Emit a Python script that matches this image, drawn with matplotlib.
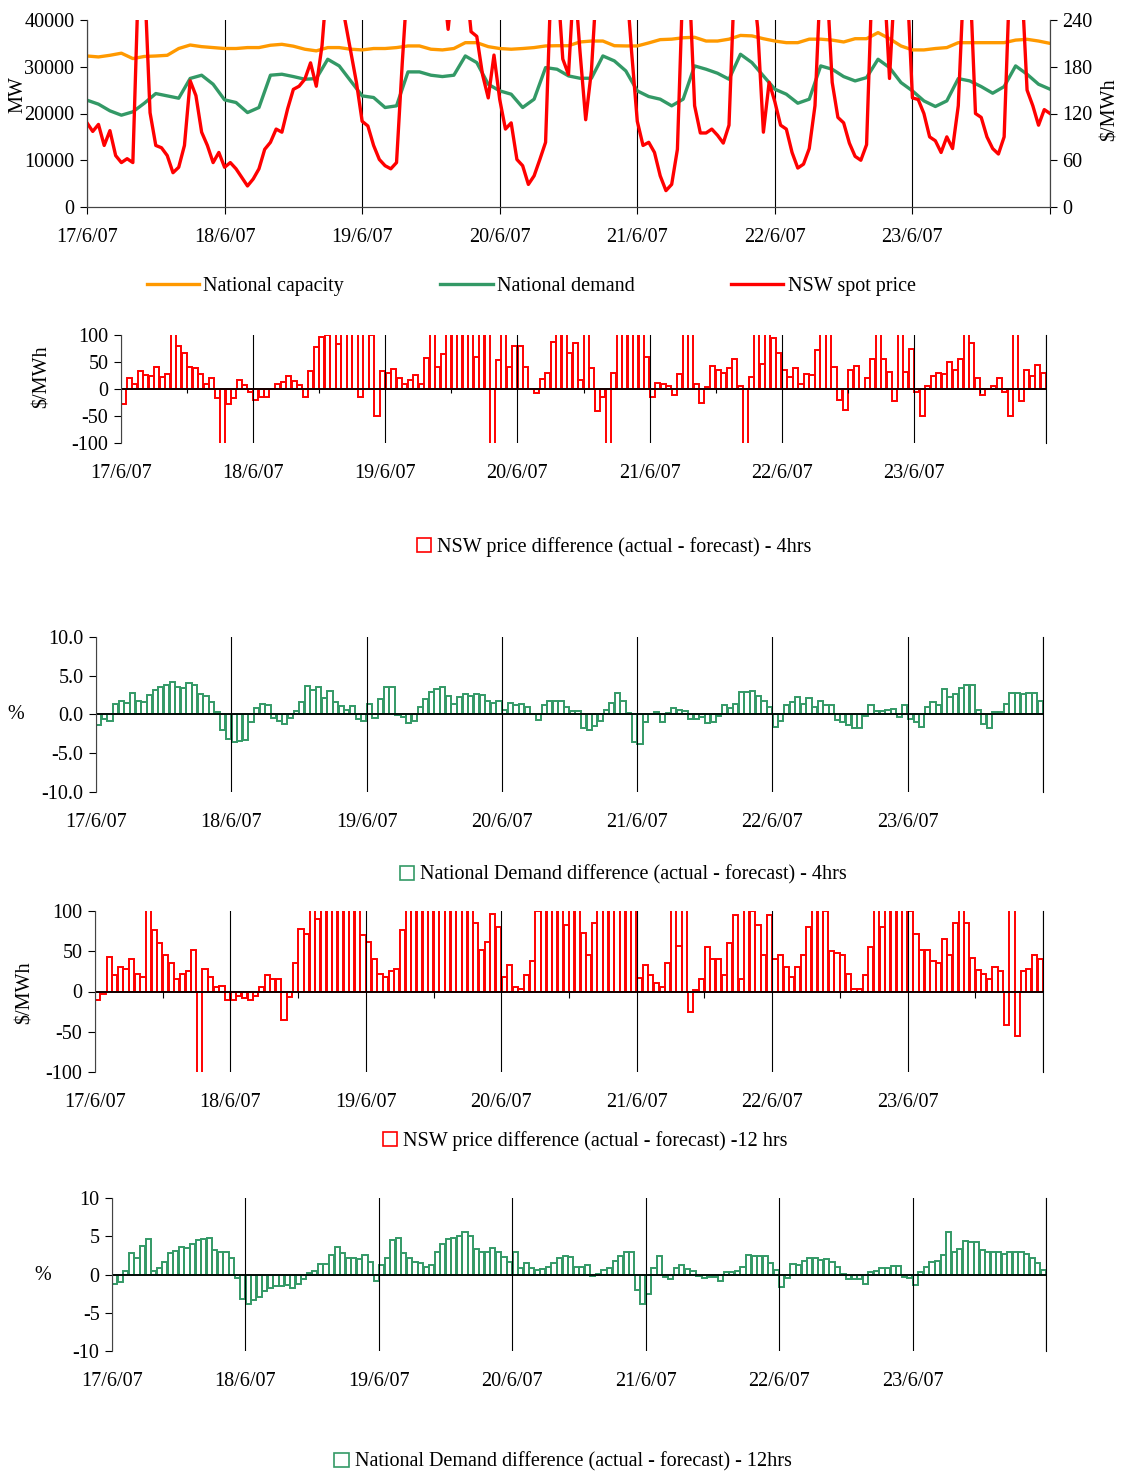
import numpy as np
import matplotlib.pyplot as plt
from matplotlib.patches import Patch
from matplotlib.lines import Line2D

plt.rcParams['font.family'] = ['Liberation Serif', 'DejaVu Serif']
plt.rcParams['font.size'] = 14.5

days = ["17/6/07", "18/6/07", "19/6/07", "20/6/07", "21/6/07", "22/6/07", "23/6/07"]

# top panel, 2-hourly values (MW)
capacity = [32300, 32100, 32450, 32900, 31750, 32200, 32300, 32450, 33900, 34650, 34300, 34100,
            33900, 33900, 34100, 34100, 34600, 34800, 34400, 33750, 33400, 34100, 34100, 33750,
            33600, 33900, 33900, 34100, 34450, 34450, 33750, 33600, 33900, 35150, 35150, 34300,
            33900, 33750, 33900, 34100, 34450, 34500, 34500, 35300, 35500, 35500, 34500, 34450,
            34450, 35100, 35800, 35900, 36200, 36300, 35500, 35500, 35900, 36700, 36600, 36000,
            35500, 35150, 35150, 35900, 35900, 35700, 35300, 36000, 36000, 37300, 36000, 34450,
            33600, 33600, 33900, 34100, 35150, 35150, 35150, 35150, 35150, 35700, 35870, 35500,
            35000]
demand = [22850, 22000, 20570, 19640, 20360, 22200, 24270, 23770, 23270, 27500, 28190, 26260,
          22920, 22350, 20200, 21280, 28190, 28400, 27900, 27330, 27470, 31600, 30180, 26970,
          23770, 23420, 21280, 21640, 28900, 28900, 28190, 27900, 28190, 32310, 30890, 26260,
          24840, 24130, 21280, 23060, 29820, 29470, 28040, 27540, 27540, 32310, 31250, 29110,
          24840, 23630, 23060, 21640, 23060, 30180, 29470, 28610, 27330, 32670, 30890, 28040,
          25200, 24130, 22200, 23060, 30180, 29470, 27900, 26970, 27680, 31600, 29820, 26620,
          24840, 22700, 21500, 22700, 27470, 26970, 25760, 24340, 25760, 30180, 28400, 26260,
          25200]
# hourly NSW spot price ($/MWh), spikes run off the chart
spot_price = [108, 97, 106, 79, 98, 66, 57, 62, 57, 300, 300, 121, 79, 76, 66, 44, 51, 79, 162, 143, 96, 79, 57, 70,
              51, 57, 49, 38, 27, 36, 49, 74, 83, 100, 96, 126, 151, 155, 164, 185, 155, 207, 300, 300, 300, 240, 200, 160,
              110, 104, 79, 61, 53, 49, 57, 185, 300, 300, 300, 300, 300, 300, 300, 228, 300, 300, 300, 225, 219, 170, 140, 195,
              138, 100, 108, 61, 53, 29, 40, 61, 83, 300, 300, 190, 170, 300, 200, 112, 175, 300, 300, 300, 300, 300, 300, 200,
              110, 79, 83, 70, 40, 21, 29, 74, 300, 300, 130, 95, 95, 100, 92, 82, 105, 300, 300, 300, 300, 230, 96, 160,
              135, 105, 100, 70, 50, 55, 75, 130, 300, 300, 160, 115, 108, 82, 65, 60, 80, 300, 300, 300, 165, 300, 300, 300,
              140, 138, 120, 90, 85, 70, 90, 75, 130, 300, 300, 120, 115, 90, 75, 68, 90, 300, 300, 300, 150, 130, 105, 125,
              120]

# hourly differences
price_diff_4h = [-27, 20, 10, 33, 26, 24, 40, 22, 27, 120, 80, 67, 40, 38, 27, 10, 20, -17, -120, -27, -17, 16, 8, -5,
                 -20, -15, -14, 0, 10, 13, 25, 14, 8, -14, 33, 78, 97, 100, 120, 84, 120, 120, 120, -15, 104, 100, -50, 33,
                 30, 37, 20, 10, 16, 26, 10, 57, 120, 40, 64, 120, 120, 120, 120, 120, 60, 120, 120, -120, 53, 120, 40, 80,
                 80, 40, 0, -7, 18, 30, 87, 120, 120, 66, 85, 17, 120, 38, -40, -15, -120, 30, 120, 120, 120, 120, 120, 60,
                 -15, 12, 10, 5, -12, 28, 120, 120, 10, -25, 3, 42, 35, 30, 38, 55, 5, -120, 22, 120, 47, 120, 95, 67,
                 35, 22, 38, 10, 28, 26, 72, 120, 120, 40, -20, -38, 35, 42, 0, 20, 55, 120, 55, 32, -22, 120, 32, 75,
                 -5, -50, 5, 25, 30, 27, 50, 35, 55, 120, 85, 20, -12, 0, 5, 20, -5, -50, 120, -22, 35, 25, 45, 30]
demand_diff_4h = [-1.3, -0.6, -0.9, 1.4, 1.8, 1.5, 2.8, 1.8, 1.6, 2.5, 3.1, 3.6, 3.8, 4.2, 3.5, 3.4, 4.0, 3.8, 2.6, 2.4, 1.6, 0.3, -2.0, -3.2,
                  -3.6, -3.4, -3.3, -1.0, 0.9, 1.3, 1.2, -0.4, -0.9, -1.2, -0.5, 0.4, 1.6, 3.7, 3.2, 3.6, 2.1, 3.0, 1.6, 1.1, 0.6, 1.1, -0.6, -0.9,
                  1.4, -0.5, 2.0, 3.5, 3.5, -0.1, -0.3, -1.1, -0.8, 1.0, 2.0, 2.9, 3.3, 3.5, 2.4, 1.3, 2.2, 2.6, 2.4, 2.6, 2.5, 1.8, 1.5, 1.8,
                  0.6, 1.5, 1.2, 1.3, 1.0, 0.0, -0.7, 1.2, 1.8, 1.7, 1.8, 1.0, 0.4, 0.4, -1.8, -2.0, -1.5, -0.8, 0.6, 1.5, 2.8, 1.8, 0.2, -3.5,
                  -3.8, -1.0, 0.1, 0.3, -1.0, 0.2, 0.8, 0.6, 0.4, -0.6, -0.6, -0.3, -1.1, -1.0, -0.2, 1.2, 0.8, 1.4, 2.9, 2.9, 3.0, 2.4, 1.8, 1.0,
                  -1.6, -0.8, 1.2, 1.6, 2.2, 1.4, 2.1, 1.0, 1.8, 1.2, 1.2, -0.7, -1.0, -1.4, -1.7, -1.7, -0.2, 1.2, 0.4, 0.4, 0.6, 0.7, -0.3, 1.2,
                  -0.6, -1.0, -1.6, 1.0, 1.6, 1.2, 3.3, 2.3, 2.6, 3.4, 3.8, 3.8, 0.6, -1.2, -1.7, 0.3, 0.3, 1.3, 2.8, 2.8, 2.6, 2.8, 2.8, 1.8]
price_diff_12h = [-10, -3, 43, 20, 30, 28, 40, 22, 18, 120, 76, 60, 45, 35, 15, 22, 25, 52, -107, 28, 18, 5, 7, -10,
                  -10, -6, -8, -10, -5, 5, 20, 16, 16, -35, -7, 36, 78, 72, 120, 90, 120, 120, 120, 120, 120, 120, 120, 70,
                  62, 40, 22, 18, 25, 28, 76, 120, 120, 120, 120, 120, 120, 120, 120, 120, 120, 120, 120, 85, 52, 61, 96, 80,
                  18, 33, 5, 3, 20, 38, 100, 120, 120, 120, 120, 82, 120, 120, 73, 45, 85, 120, 120, 120, 120, 120, 120, 120,
                  17, 33, 20, 10, 5, 36, 120, 57, 120, -25, 2, 15, 55, 40, 40, 20, 60, 95, 15, 120, 100, 82, 45, 95,
                  40, 45, 30, 18, 30, 45, 80, 120, 120, 100, 50, 48, 45, 22, 3, 3, 20, 55, 120, 80, 120, 120, 120, 120,
                  100, 72, 52, 52, 38, 35, 65, 45, 85, 120, 85, 42, 27, 22, 15, 30, 25, -42, 120, -55, 25, 28, 45, 40]
demand_diff_12h = [-1.2, -1.0, 0.4, 2.8, 2.1, 3.7, 4.6, 0.4, 0.8, 1.6, 2.8, 3.1, 3.6, 3.4, 4.0, 4.5, 4.7, 4.8, 3.2, 3.0, 3.0, 2.2, -0.5, -3.2,
                   -3.8, -3.3, -3.0, -2.2, -1.8, -1.5, -1.5, -1.4, -1.7, -1.3, -0.6, 0.2, 0.4, 1.4, 1.4, 2.5, 3.6, 2.8, 2.1, 2.1, 2.0, 2.6, 1.6, -0.8,
                   1.2, 2.2, 4.5, 4.8, 2.8, 2.2, 1.6, 1.5, 1.0, 1.3, 2.9, 4.0, 4.6, 4.8, 5.0, 5.6, 5.0, 3.3, 3.0, 3.0, 3.4, 3.0, 2.3, 1.6,
                   2.9, 0.8, 1.5, 0.9, 0.6, 0.7, 1.0, 1.5, 2.2, 2.4, 2.3, 1.0, 1.0, 1.2, -0.2, 0.1, 0.6, 0.8, 1.8, 2.4, 3.0, 3.0, -2.0, -3.8,
                   -2.6, 0.8, 2.4, -0.3, -0.6, 0.8, 1.2, 0.7, 0.4, -0.2, -0.5, -0.3, -0.3, -0.9, 0.3, 0.3, 0.4, 1.0, 2.5, 2.4, 2.4, 2.4, 1.5, 0.6,
                   -1.6, -0.5, 1.4, 1.3, 1.8, 2.2, 2.2, 1.9, 2.0, 1.6, 1.0, 0.1, -0.6, -0.6, -0.6, -1.2, 0.3, 0.5, 0.8, 0.9, 1.1, 1.1, -0.3, -0.5,
                   -1.4, 0.3, 1.0, 1.6, 1.8, 2.5, 5.6, 3.0, 3.3, 4.4, 4.3, 4.2, 3.2, 3.0, 2.9, 3.0, 2.7, 2.9, 3.0, 3.0, 2.7, 2.2, 1.5, 0.6]

RED = "#FF0000"
GREEN = "#339966"
ORANGE = "#FF9900"
W, H = 1121, 1472


def rect(left, right, top, bottom):
    return [left / W, 1 - bottom / H, (right - left) / W, (bottom - top) / H]


fig = plt.figure(figsize=(W / 100, H / 100), dpi=100)

# ---- top panel
ax1 = fig.add_axes(rect(87, 1050, 20, 207))
t2 = np.arange(len(capacity)) * 2 / 24
t1 = np.arange(len(spot_price)) / 24
ax1.plot(t2, capacity, color=ORANGE, lw=2.4)
ax1.plot(t2, demand, color=GREEN, lw=2.4)
ax1.set_xlim(0, 7)
ax1.set_ylim(0, 40000)
ax1.set_yticks(range(0, 40001, 10000))
ax1.set_xticks(range(8))
ax1.set_xticklabels(days + [""])
ax1.grid(axis="x", color="black", lw=0.8)
ax1.tick_params(direction="out", length=5, width=0.8, pad=4)
ax1.tick_params(axis="x", pad=10)
ax2 = ax1.twinx()
ax2.plot(t1, spot_price, color=RED, lw=2.4)
ax2.set_ylim(0, 240)
ax2.set_yticks(range(0, 241, 60))
ax2.tick_params(direction="out", length=5, width=0.8, pad=4)
for a in (ax1, ax2):
    a.spines["top"].set_visible(False)
    for s in ("left", "right", "bottom"):
        a.spines[s].set_color("#444444")
fig.text(18 / W, 1 - 95 / H, "MW", rotation=90, ha="center", va="center")
fig.text(1110 / W, 1 - 110 / H, "$/MWh", rotation=90, ha="center", va="center")
fig.legend(handles=[Line2D([], [], color=ORANGE, lw=2.4), Line2D([], [], color=GREEN, lw=2.4),
                    Line2D([], [], color=RED, lw=2.4)],
           labels=["National capacity", "National demand", "NSW spot price"],
           loc="center", bbox_to_anchor=(531 / W, 1 - 286 / H), ncol=3, frameon=False,
           handlelength=2.6, handletextpad=0.2, columnspacing=4.8)


def bar_panel(box, values, color, ylim, yticks, fmt, label, leg_xy, midday=False):
    ax = fig.add_axes(rect(*box))
    x = (np.arange(len(values)) + 0.5) / 24
    ax.bar(x, values, width=0.92 / 24, facecolor="none", edgecolor=color, linewidth=1.4)
    ax.axhline(0, color="black", lw=1.3)
    ax.axvline(7, color="black", lw=0.8, clip_on=False)
    if midday:
        ax.vlines(np.arange(7) + 0.5, -0.04 * (ylim[1] - ylim[0]), 0, color="black", lw=0.8)
    ax.set_xlim(0, 7)
    ax.set_ylim(*ylim)
    ax.set_yticks(yticks)
    ax.set_yticklabels([fmt % v for v in yticks])
    ax.set_xticks(range(8))
    ax.set_xticklabels(days + [""])
    ax.grid(axis="x", color="black", lw=0.8)
    for s in ("top", "right", "bottom"):
        ax.spines[s].set_visible(False)
    ax.spines["left"].set_color("#444444")
    ax.tick_params(axis="x", length=0, pad=15)
    ax.tick_params(axis="y", direction="out", length=5, width=0.8, pad=4)
    fig.legend(handles=[Patch(facecolor="white", edgecolor=color, lw=1.2)], labels=[label],
               loc="center", bbox_to_anchor=(leg_xy[0] / W, 1 - leg_xy[1] / H), frameon=False,
               handlelength=0.7, handleheight=0.7, handletextpad=0.3)
    return ax


bar_panel((121, 1046, 335, 443), price_diff_4h, RED, (-100, 100), [-100, -50, 0, 50, 100], "%d",
          "NSW price difference (actual - forecast) - 4hrs", (614, 547), midday=True)
fig.text(42 / W, 1 - 377 / H, "$/MWh", rotation=90, ha="center", va="center")

bar_panel((96, 1043, 637, 792), demand_diff_4h, GREEN, (-10, 10), [-10, -5, 0, 5, 10], "%.1f",
          "National Demand difference (actual - forecast) - 4hrs", (623, 875))
fig.text(16 / W, 1 - 715 / H, "%", ha="center", va="center")

bar_panel((95, 1043, 911, 1072), price_diff_12h, RED, (-100, 100), [-100, -50, 0, 50, 100], "%d",
          "NSW price difference (actual - forecast) -12 hrs", (585, 1141), midday=True)
fig.text(25 / W, 1 - 993 / H, "$/MWh", rotation=90, ha="center", va="center")

bar_panel((112, 1046, 1198, 1351), demand_diff_12h, GREEN, (-10, 10), [-10, -5, 0, 5, 10], "%d",
          "National Demand difference (actual - forecast) - 12hrs", (563, 1462))
fig.text(43 / W, 1 - 1275 / H, "%", ha="center", va="center")

fig.savefig("out.png", dpi=100)
